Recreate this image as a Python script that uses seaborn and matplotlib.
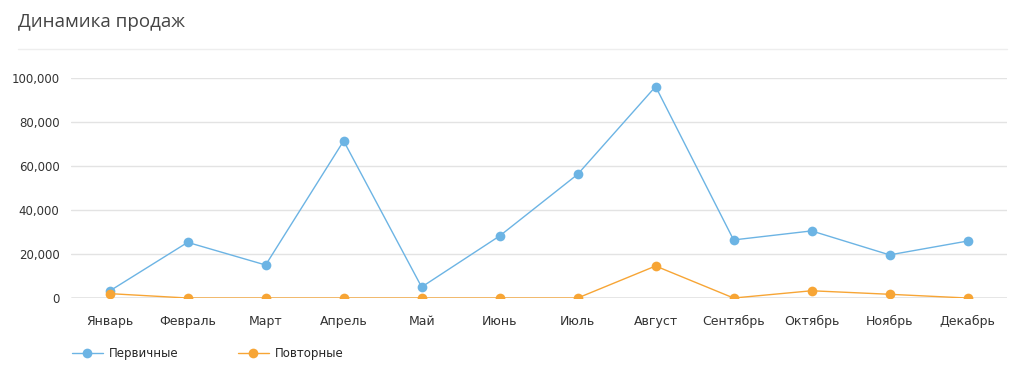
import pandas as pd
import matplotlib
matplotlib.use('Agg')
import matplotlib.pyplot as plt
import seaborn as sns
from matplotlib.ticker import FuncFormatter, MultipleLocator
from matplotlib.lines import Line2D

months = ['Январь', 'Февраль', 'Март', 'Апрель', 'Май', 'Июнь',
          'Июль', 'Август', 'Сентябрь', 'Октябрь', 'Ноябрь', 'Декабрь']
primary = [3200, 25300, 15000, 71400, 5000, 28200,
           56200, 96100, 26400, 30500, 19600, 25900]
repeat = [2000, 0, 0, 0, 0, 0, 0, 14550, 0, 3300, 1700, 0]
series_names = ['Первичные', 'Повторные']

palette = {'Первичные': '#6cb4e4', 'Повторные': '#f7a535'}

df = pd.DataFrame({
    'month': months * 2,
    'value': primary + repeat,
    'series': [series_names[0]] * 12 + [series_names[1]] * 12,
})

sns.set_style('white')
plt.rcParams['font.family'] = ['DejaVu Sans']

fig = plt.figure(figsize=(10.24, 3.73), dpi=100)
ax = fig.add_axes([0.069, 0.201, 0.914, 0.590])

sns.lineplot(data=df, x='month', y='value', hue='series', hue_order=series_names,
             palette=palette, marker='o', markersize=7, markeredgewidth=0,
             linewidth=1, sort=False, legend=False, ax=ax)

ax.set_xlim(-0.5, len(months) - 0.5)
ax.set_ylim(0, 100000)
ax.yaxis.set_major_locator(MultipleLocator(20000))
ax.yaxis.set_major_formatter(FuncFormatter(lambda v, p: f'{int(v):,}'))
ax.grid(axis='y', color='#e3e3e3', linewidth=1)
ax.set_axisbelow(True)
ax.axhline(0, color='#9a9a9a', linewidth=1, zorder=1)
for s in ax.spines.values():
    s.set_visible(False)
ax.tick_params(axis='both', length=0, colors='#333333')
ax.tick_params(axis='x', pad=12, labelsize=9)
ax.tick_params(axis='y', pad=8, labelsize=8.5)
ax.set_xlabel('')
ax.set_ylabel('')

# заголовок и разделитель
fig.text(0.0176, 0.94, 'Динамика продаж', fontsize=13.5, color='#444444',
         family=['Open Sans', 'DejaVu Sans'], va='center', ha='left')
fig.add_artist(Line2D([0.0176, 0.983], [0.869, 0.869], color='#eeeeee', linewidth=1))

handles = [Line2D([], [], color=palette[n], marker='o', markersize=7,
                  markeredgewidth=0, linewidth=1) for n in series_names]
fig.legend(handles, series_names, loc='center left', bbox_to_anchor=(0.060, 0.051),
           ncol=2, frameon=False, fontsize=8.5, handlelength=2.6, handletextpad=0.55,
           columnspacing=5.0)

fig.savefig('out.png', dpi=100)
